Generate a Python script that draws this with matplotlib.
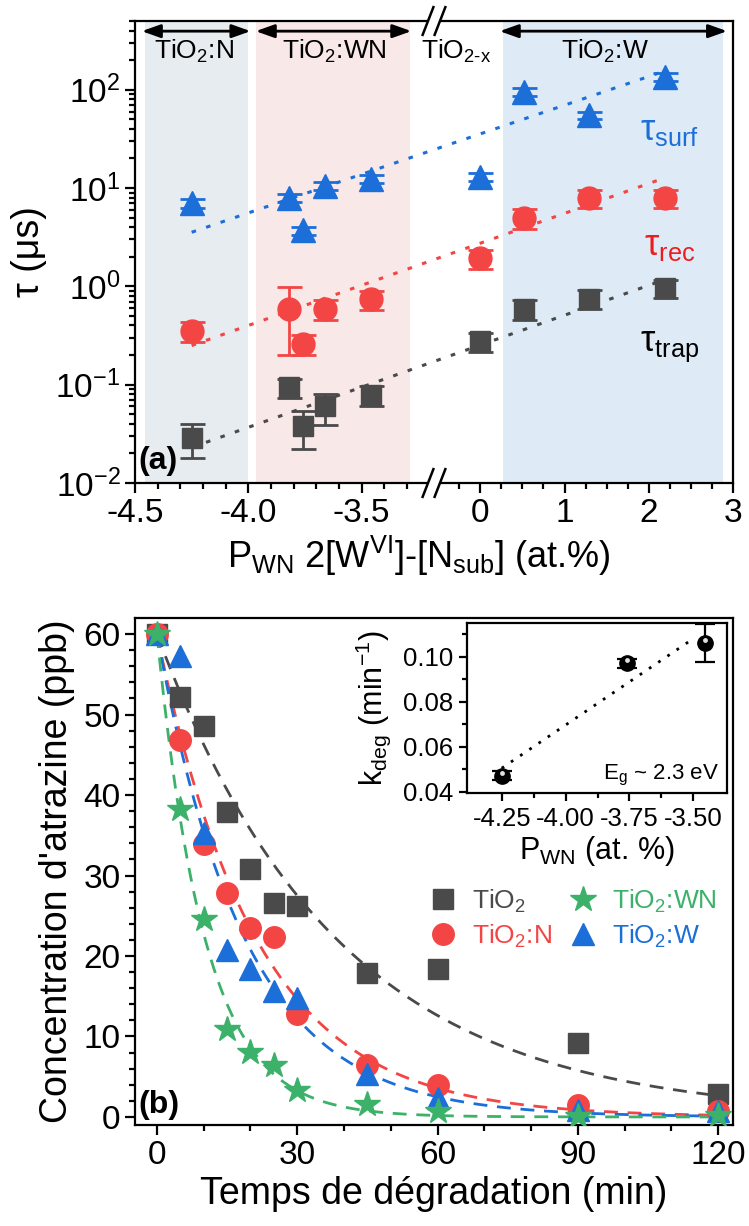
import numpy as np
import matplotlib
matplotlib.use('Agg')
import matplotlib.pyplot as plt
from matplotlib.patches import Polygon
from matplotlib.transforms import offset_copy

plt.rcParams['font.family'] = ['Liberation Sans', 'DejaVu Sans']
plt.rcParams['mathtext.fontset'] = 'custom'
plt.rcParams['mathtext.rm'] = 'Liberation Sans'
plt.rcParams['mathtext.it'] = 'Liberation Sans:italic'
plt.rcParams['mathtext.bf'] = 'Liberation Sans:bold'
plt.rcParams['axes.unicode_minus'] = False
plt.rcParams['axes.linewidth'] = 1.6

GRAY = '#4a4a4a'
RED = '#f44545'
GREEN = '#3bb16a'
BLUE = '#1c6fd9'

# (a) lifetimes vs P_WN
p_wn = [-4.25, -3.82, -3.76, -3.66, -3.46, 0.0, 0.52, 1.29, 2.19]
tau_trap = [0.029, 0.094, 0.038, 0.060, 0.079, 0.275, 0.59, 0.75, 0.97]
tau_trap_err = [0.011, 0.02, 0.016, 0.021, 0.018, 0.06, 0.13, 0.16, 0.2]
tau_rec = [0.35, 0.59, 0.26, 0.59, 0.74, 1.94, 4.96, 7.9, 7.9]
tau_rec_err = [0.08, 0.39, 0.06, 0.13, 0.16, 0.43, 1.1, 1.7, 1.7]
tau_surf = [7.0, 8.0, 3.7, 10.6, 12.4, 13.0, 95.0, 55.0, 135.0]
tau_surf_err = [0.7, 0.8, 0.35, 1.0, 1.2, 1.3, 9.0, 5.0, 13.0]

fit_x = [-4.25, 2.19]
fit_surf = [3.55, 155.0]
fit_rec = [0.25, 12.7]
fit_trap = [0.023, 1.17]

# (b) atrazine degradation
t_min = [0, 5, 10, 15, 20, 25, 30, 45, 60, 90, 120]
c_tio2 = [60, 52.2, 48.6, 37.9, 30.8, 26.6, 26.2, 17.9, 18.4, 9.2, 2.9]
c_n = [60, 46.9, 33.9, 27.8, 23.5, 22.4, 12.8, 6.4, 4.0, 1.5, 0.7]
c_wn = [60, 38.3, 24.6, 10.9, 8.1, 6.4, 3.4, 1.6, 0.8, 0.1, 0.3]
c_w = [60, 57.3, 35.3, 20.8, 18.4, 15.7, 14.8, 5.3, 2.4, 0.9, 0.7]
k_fit = {'TiO2': 0.026, 'N': 0.047, 'WN': 0.097, 'W': 0.053}

# inset: rate constant vs P_WN
k_pwn = [-4.25, -3.76, -3.455]
k_deg = [0.047, 0.097, 0.106]
k_err = [0.002, 0.002, 0.0085]


# broken x axis: [-4.5, -3.18] on the left half, [-0.55, 3] on the right half
def fwd(x):
    x = np.asarray(x, float)
    return np.where(x <= -2.0, (x + 4.5) / 1.32 * 0.5, 0.5 + (x + 0.55) / 3.55 * 0.5)


def inv(u):
    u = np.asarray(u, float)
    return np.where(u <= 0.5, u * 2 * 1.32 - 4.5, (u - 0.5) * 2 * 3.55 - 0.55)


fig = plt.figure(figsize=(7.49, 12.26), dpi=100)
W, H = 749, 1226
ax1 = fig.add_axes([135 / W, 1 - 483 / H, 598 / W, 462 / H])
ax2 = fig.add_axes([135 / W, 1 - 1125 / H, 598 / W, 507 / H])
ax3 = fig.add_axes([467 / W, 1 - 793 / H, 260 / W, 170 / H])

# ---------------- panel (a)
ax1.set_xscale('function', functions=(fwd, inv))
ax1.set_yscale('log')
ax1.set_xlim(-4.5, 3)
ax1.set_ylim(0.01, 500)

ax1.axvspan(-4.455, -4.0, color='#e7ecf1', lw=0, zorder=0)
ax1.axvspan(-3.967, -3.284, color='#f8e8e7', lw=0, zorder=0)
ax1.axvspan(0.267, 2.88, color='#deebf6', lw=0, zorder=0)

for x0, x1 in [(-4.47, -3.99), (-3.967, -3.28), (0.23, 2.93)]:
    ax1.annotate('', xy=(x1, 0.978), xytext=(x0, 0.978),
                 xycoords=('data', 'axes fraction'), textcoords=('data', 'axes fraction'),
                 arrowprops=dict(arrowstyle='<|-|>,head_length=0.7,head_width=0.25',
                                 color='black', lw=2, mutation_scale=16, shrinkA=0, shrinkB=0))

xt = ax1.get_xaxis_transform()
ax1.text(-4.24, 0.935, 'TiO$_{\\mathregular{2}}$:N', transform=xt, ha='center', va='center', fontsize=19)
ax1.text(-3.62, 0.935, 'TiO$_{\\mathregular{2}}$:WN', transform=xt, ha='center', va='center', fontsize=19)
ax1.text(-0.29, 0.935, 'TiO$_{\\mathregular{2\u2010x}}$', transform=xt, ha='center', va='center', fontsize=19)
ax1.text(1.485, 0.935, 'TiO$_{\\mathregular{2}}$:W', transform=xt, ha='center', va='center', fontsize=19)

dot = dict(lw=2.2, dashes=(1.5, 3.5), zorder=2)
ax1.plot(fit_x, fit_surf, color=BLUE, **dot)
ax1.plot(fit_x, fit_rec, color=RED, **dot)
ax1.plot(fit_x, fit_trap, color=GRAY, **dot)

ax1.errorbar(p_wn, tau_trap, yerr=tau_trap_err, fmt='s', ms=15, color=GRAY,
             elinewidth=2, capsize=9, capthick=2, zorder=3)
ax1.errorbar(p_wn, tau_rec, yerr=tau_rec_err, fmt='o', ms=16.5, color=RED,
             elinewidth=2, capsize=9, capthick=2, zorder=3)
ax1.errorbar(p_wn, tau_surf, yerr=tau_surf_err, fmt='^', ms=17, color=BLUE,
             elinewidth=2, capsize=9, capthick=2, zorder=3)

ax1.text(2.25, 0.764, 'τ$_{\\mathregular{surf}}$', transform=xt, color=BLUE, ha='center', va='center', fontsize=26)
ax1.text(2.25, 0.515, 'τ$_{\\mathregular{rec}}$', transform=xt, color='#ee1c1c', ha='center', va='center', fontsize=26)
ax1.text(2.25, 0.295, 'τ$_{\\mathregular{trap}}$', transform=xt, color='black', ha='center', va='center', fontsize=26)
ax1.text(0.005, 0.015, '(a)', transform=ax1.transAxes, fontsize=23, fontweight='bold', ha='left', va='bottom')

ax1.set_xticks([-4.5, -4.0, -3.5, 0, 1, 2, 3], ['-4.5', '-4.0', '-3.5', '0', '1', '2', '3'])
ax1.set_xticks([-4.4, -4.3, -4.2, -4.1, -3.9, -3.8, -3.7, -3.6, -3.4, -3.3,
                -0.25, 0.25, 0.5, 0.75, 1.25, 1.5, 1.75, 2.25, 2.5, 2.75], minor=True)
ax1.tick_params(which='both', direction='out', top=False, right=False, labelsize=24, width=1.6)
ax1.tick_params(which='major', length=7)
ax1.tick_params(which='minor', length=4)
ax1.set_xlabel('P$_{\\mathregular{WN}}$ 2[W$^{\\mathregular{VI}}$]-[N$_{\\mathregular{sub}}$] (at.%)', fontsize=26, labelpad=4)
ax1.xaxis.label.set_x(0.475)
ax1.set_ylabel('τ (μs)', fontsize=27, labelpad=6)

# axis break marks on the top and bottom spines
for yb in (0.0, 1.0):
    gap = Polygon([[0.488, yb - 0.028], [0.508, yb - 0.028], [0.512, yb + 0.028], [0.492, yb + 0.028]],
                  closed=True, transform=ax1.transAxes, fc='white', ec='none', clip_on=False, zorder=5)
    ax1.add_patch(gap)
    for xc in (0.490, 0.510):
        ax1.plot([xc - 0.009, xc + 0.009], [yb - 0.03, yb + 0.03], transform=ax1.transAxes,
                 color='black', lw=1.8, clip_on=False, zorder=6)

# ---------------- panel (b)
t_fine = np.linspace(0, 120, 300)
dash = dict(lw=2, dashes=(5, 3.5), zorder=2)
ax2.plot(t_fine, 60 * np.exp(-k_fit['TiO2'] * t_fine), color=GRAY, **dash)
ax2.plot(t_fine, 60 * np.exp(-k_fit['N'] * t_fine), color=RED, **dash)
ax2.plot(t_fine, 60 * np.exp(-k_fit['W'] * t_fine), color=BLUE, **dash)
ax2.plot(t_fine, 60 * np.exp(-k_fit['WN'] * t_fine), color=GREEN, **dash)

h_tio2, = ax2.plot(t_min, c_tio2, 's', ms=14, color=GRAY, ls='none', label='TiO$_{\\mathregular{2}}$', zorder=3)
h_n, = ax2.plot(t_min, c_n, 'o', ms=15.5, color=RED, ls='none', label='TiO$_{\\mathregular{2}}$:N', zorder=3)
h_w, = ax2.plot(t_min, c_w, '^', ms=16, color=BLUE, ls='none', label='TiO$_{\\mathregular{2}}$:W', zorder=3)
h_wn, = ax2.plot(t_min, c_wn, '*', ms=19, color=GREEN, ls='none', label='TiO$_{\\mathregular{2}}$:WN', zorder=3)

leg = ax2.legend(handles=[h_tio2, h_n, h_wn, h_w], ncol=2, loc='upper right',
                 bbox_to_anchor=(1.0, 0.50), frameon=False, fontsize=19,
                 handletextpad=0.6, columnspacing=0.7, handlelength=1.0, labelspacing=0.3,
                 borderaxespad=0.2, labelcolor='markerfacecolor')

ax2.set_xlim(-4.7, 123.2)
ax2.set_ylim(-1, 62)
ax2.set_xticks([0, 30, 60, 90, 120])
ax2.set_xticks([10, 20, 40, 50, 70, 80, 100, 110], minor=True)
ax2.set_yticks([0, 10, 20, 30, 40, 50, 60])
ax2.set_yticks(np.arange(0, 61, 2), minor=True)
ax2.tick_params(which='both', direction='out', top=False, right=False, labelsize=24, width=1.6)
ax2.tick_params(which='major', length=7)
ax2.tick_params(which='minor', length=4)
ax2.set_xlabel('Temps de dégradation (min)', fontsize=27, labelpad=4)
ax2.set_ylabel("Concentration d'atrazine (ppb)", fontsize=27, labelpad=6)
ax2.text(0.005, 0.01, '(b)', transform=ax2.transAxes, fontsize=23, fontweight='bold', ha='left', va='bottom')

# ---------------- inset
kfit = np.polyfit(k_pwn, k_deg, 1)
xl = np.array([-4.25, -3.5])
ax3.plot(xl, np.polyval(kfit, xl), color='black', lw=2, dashes=(1, 3), zorder=2)
ax3.errorbar(k_pwn, k_deg, yerr=k_err, fmt='o', ms=11, color='black',
             elinewidth=1.6, capsize=7, capthick=1.6, zorder=3)
hl = offset_copy(ax3.transData, fig=fig, x=0, y=3, units='dots')
ax3.plot(k_pwn, k_deg, 'o', ms=3.5, color='#e0e0e0', mec='none', transform=hl, zorder=4)
ax3.text(0.97, 0.03, 'E$_{\\mathregular{g}}$ ~ 2.3 eV', transform=ax3.transAxes, ha='right', va='bottom', fontsize=16)
ax3.set_xlim(-4.386, -3.368)
ax3.set_ylim(0.0394, 0.115)
ax3.set_xticks([-4.25, -4.0, -3.75, -3.5], ['-4.25', '-4.00', '-3.75', '-3.50'])
ax3.set_xticks([-4.125, -3.875, -3.625], minor=True)
ax3.set_yticks([0.04, 0.06, 0.08, 0.10], ['0.04', '0.06', '0.08', '0.10'])
ax3.set_yticks([0.05, 0.07, 0.09, 0.11], minor=True)
ax3.tick_params(which='both', direction='out', top=False, right=False, labelsize=18.5, width=1.6, pad=4)
ax3.tick_params(which='major', length=6)
ax3.tick_params(which='minor', length=3.5)
ax3.set_xlabel('P$_{\\mathregular{WN}}$ (at. %)', fontsize=22, labelpad=2)
ax3.set_ylabel('k$_{\\mathregular{deg}}$ (min$^{\\mathregular{-1}}$)', fontsize=22, labelpad=7)

fig.savefig('out.png', dpi=100)
